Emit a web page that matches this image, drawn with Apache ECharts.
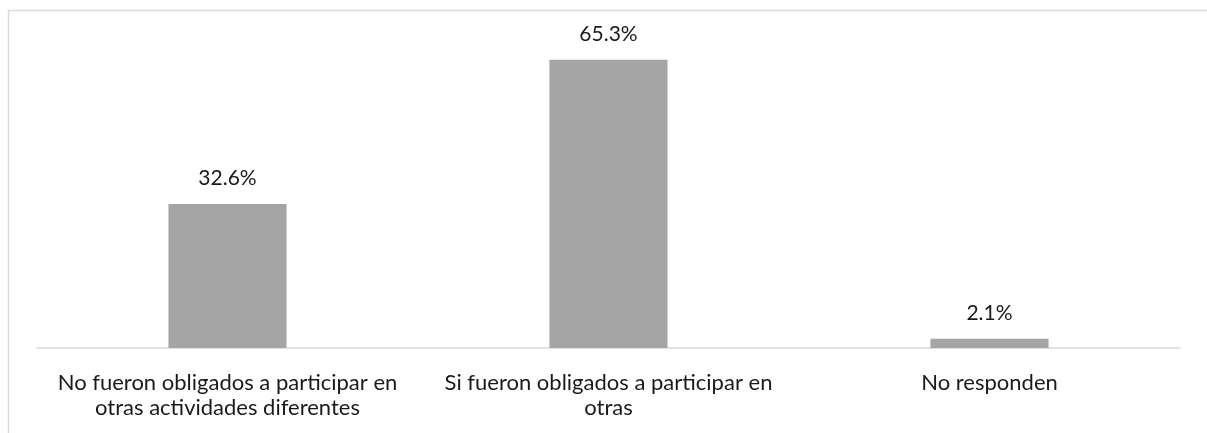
<!DOCTYPE html>
<html><head><meta charset="utf-8">
<script src="https://cdn.jsdelivr.net/npm/echarts@6/dist/echarts.min.js"></script>
<style>html,body{margin:0;padding:0;background:#fff}#c{width:1207px;height:433px}</style>
</head><body><div id="c"></div>
<script>
const categories = ["No fueron obligados a participar en\notras actividades diferentes", "Si fueron obligados a participar en\notras", "No responden"];
const values = [32.6, 65.3, 2.1];
const chart = echarts.init(document.getElementById('c'));
const font = 'Lato, "Open Sans", sans-serif';
chart.setOption({
  animation: false,
  graphic: [{type:'rect', shape:{x:8.5,y:10.5,width:1300,height:500}, style:{fill:'none',stroke:'#d9d9d9',lineWidth:1.5}, silent:true}],
  grid: {left:37, right:27, top:39, bottom:85},
  xAxis: {type:'category', data: categories,
    axisLine:{lineStyle:{color:'#d9d9d9', width:1.5}}, axisTick:{show:false},
    axisLabel:{color:'#1a1a1a', fontFamily:font, fontSize:22, lineHeight:25, margin:22, interval:0}},
  yAxis: {type:'value', min:0, max:70, show:false, splitLine:{show:false}},
  series: [{type:'bar', data: values, barWidth:'31%', itemStyle:{color:'#a5a5a5'},
    label:{show:true, position:'top', distance:15, formatter: p => p.value.toFixed(1) + '%', color:'#1a1a1a', fontFamily:font, fontSize:21}}]
});
</script></body></html>
